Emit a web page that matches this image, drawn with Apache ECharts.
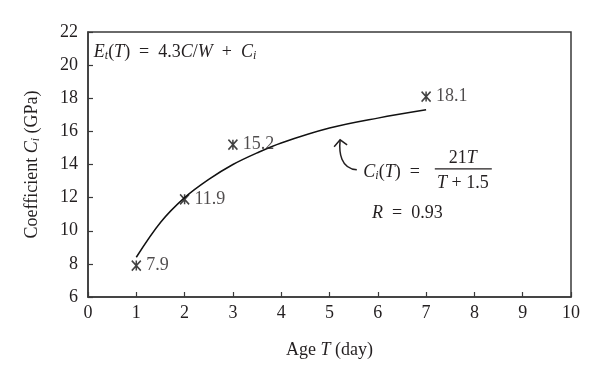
<!DOCTYPE html>
<html>
<head>
<meta charset="utf-8">
<script src="https://cdn.jsdelivr.net/npm/echarts@6/dist/echarts.min.js"></script>
<style>html,body{margin:0;padding:0;background:#fff}#c{width:600px;height:375px}</style>
</head>
<body>
<div id="c"></div>
<script>
// measured points
const days = [1, 2, 3, 7];
const measured = [7.9, 11.9, 15.2, 18.1];
// fitted curve
const fitT = [1, 1.5, 2, 2.5, 3, 3.5, 4, 5, 6, 7];
const fitC = [8.4, 10.5, 12.0, 13.1, 14.0, 14.7, 15.3, 16.2, 16.8, 17.3];
const xTicks = [0, 10, 1];
const yTicks = [6, 22, 2];

const FONT = "'Liberation Serif', 'DejaVu Serif', serif";
const INK = '#231f20';
const FS = 18;
const chart = echarts.init(document.getElementById('c'), null, {renderer: 'canvas'});

const star = 'path://M0,0L10,12M10,0L0,12M5,0L5,12';
const R = {
  n: {fontFamily: FONT, fontSize: FS, color: INK},
  i: {fontFamily: FONT, fontSize: FS, fontStyle: 'italic', color: INK},
  s: {fontFamily: FONT, fontSize: 12, fontStyle: 'italic', color: INK, verticalAlign: 'bottom', padding: [8, 0, 0, 0]}
};

const option = {
  animation: false,
  backgroundColor: '#fff',
  textStyle: {fontFamily: FONT, color: INK},
  grid: {left: 88, right: 29, top: 32, bottom: 78, show: true, borderColor: '#3a3a3a', borderWidth: 1.5, backgroundColor: 'transparent'},
  xAxis: {
    type: 'value', min: xTicks[0], max: xTicks[1], interval: xTicks[2],
    name: '{n|Age }{i|T}{n| (day)}', nameLocation: 'middle', nameGap: 44,
    nameTextStyle: {rich: R},
    axisLine: {show: true, lineStyle: {color: '#3a3a3a', width: 1.5}},
    axisTick: {show: true, inside: true, length: 5, lineStyle: {color: '#3a3a3a', width: 1.2}},
    axisLabel: {fontFamily: FONT, fontSize: FS, color: INK, margin: 7},
    splitLine: {show: false}
  },
  yAxis: {
    type: 'value', min: yTicks[0], max: yTicks[1], interval: yTicks[2],
    name: '{n|Coefficient }{i|C}{s|i}{n| (GPa)}', nameLocation: 'middle', nameGap: 46,
    nameTextStyle: {rich: R},
    axisLine: {show: true, lineStyle: {color: '#3a3a3a', width: 1.5}},
    axisTick: {show: true, inside: true, length: 5, lineStyle: {color: '#3a3a3a', width: 1.2}},
    axisLabel: {fontFamily: FONT, fontSize: FS, color: INK, margin: 10},
    splitLine: {show: false}
  },
  series: [
    {
      type: 'line', data: fitT.map((t, i) => [t, fitC[i]]), smooth: 0.35,
      showSymbol: false, symbol: 'none', lineStyle: {color: '#111', width: 1.5}, z: 2
    },
    {
      type: 'scatter', data: days.map((d, i) => [d, measured[i]]),
      symbol: star, symbolSize: [9, 10],
      itemStyle: {color: 'none', borderColor: '#111', borderWidth: 1.6},
      label: {show: true, position: 'right', distance: 3, fontFamily: FONT, fontSize: FS, color: INK,
        formatter: p => p.value[1].toFixed(1)},
      z: 3
    }
  ]
};
chart.setOption(option);

const P = (x, y) => chart.convertToPixel({gridIndex: 0}, [x, y]);
const tx = (x, y, text, align) => ({
  type: 'text', x, y, z: 10,
  style: {text, rich: R, align: align || 'left', verticalAlign: 'middle', fill: INK, font: FS + 'px ' + FONT}
});
const a = P(0.12, 20.8);
const f = P(7.76, 13.74);   // fraction line centre
const rp = P(5.88, 11.08);
const tip = P(5.22, 15.49);
const g = [
  tx(a[0], a[1], '{i|E}{s|t}{n|(}{i|T}{n|)  =  4.3}{i|C}{n|/}{i|W}{n|  +  }{i|C}{s|i}'),
  tx(f[0] - 34, f[1] + 3, '{i|C}{s|i}{n|(}{i|T}{n|)  =  }', 'right'),
  tx(f[0], f[1] - 11, '{n|21}{i|T}', 'center'),
  tx(f[0], f[1] + 14, '{i|T}{n| + 1.5}', 'center'),
  {type: 'line', z: 10, shape: {x1: f[0] - 28, y1: f[1], x2: f[0] + 29, y2: f[1]}, style: {stroke: INK, lineWidth: 1.2}},
  tx(rp[0], rp[1], '{i|R}{n|  =  0.93}'),
  {type: 'bezierCurve', z: 10, shape: {x1: f[0] - 106, y1: f[1] + 1, cpx1: f[0] - 122, cpy1: f[1], cpx2: f[0] - 124, cpy2: f[1] - 16, x2: tip[0], y2: tip[1]},
    style: {stroke: INK, lineWidth: 1.5, fill: null}},
  {type: 'polyline', z: 10, shape: {points: [[tip[0] - 6, tip[1] + 7], [tip[0], tip[1]], [tip[0] + 7, tip[1] + 5]]},
    style: {stroke: INK, lineWidth: 1.5, fill: null}}
];
chart.setOption({graphic: g});
</script>
</body>
</html>
